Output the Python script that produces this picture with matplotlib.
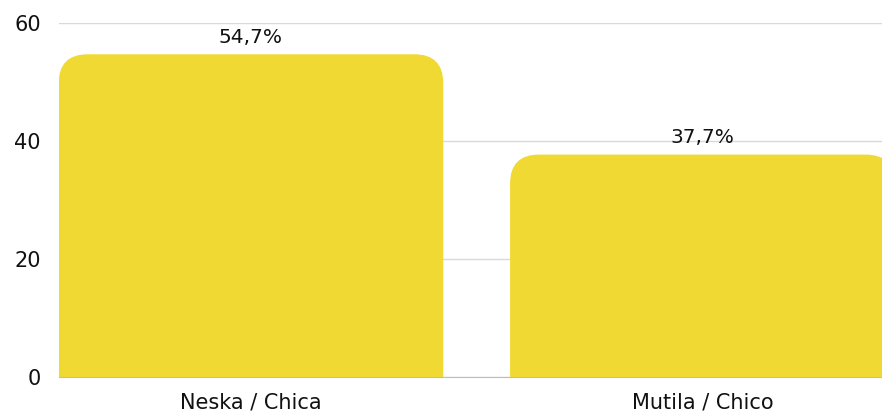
import matplotlib.pyplot as plt
from matplotlib.patches import FancyBboxPatch

categories = ['Neska / Chica', 'Mutila / Chico']
values = [54.7, 37.7]
labels = ['54,7%', '37,7%']

plt.rcParams['font.family'] = ['DejaVu Sans']

fig = plt.figure(figsize=(8.82, 4.18), dpi=100)
ax = fig.add_axes([58.7 / 882, 1 - 377 / 418, 1 - 58.7 / 882, 354 / 418])

bar_w = 0.852
ax.set_xlim(-bar_w / 2, 1.398)
ax.set_ylim(0, 60)

# corner radius in pixels -> data units
px_x = ax.bbox.width / (ax.get_xlim()[1] - ax.get_xlim()[0])
px_y = ax.bbox.height / 60
rx = 29 / px_x
ry = 29 / px_y

for i, v in enumerate(values):
    p = FancyBboxPatch((i - bar_w / 2, -ry), bar_w, v + ry,
                       boxstyle='round,pad=0,rounding_size=%f' % rx,
                       mutation_aspect=ry / rx,
                       fc='#F0D932', ec='none', zorder=2)
    ax.add_patch(p)
    ax.annotate(labels[i], (i, v), xytext=(0, 5.5), textcoords='offset points',
                ha='center', va='bottom', fontsize=14.5, color='#111111')

ax.set_xticks(range(len(categories)))
ax.set_xticklabels(categories)
ax.set_yticks([0, 20, 40, 60])
ax.tick_params(axis='both', length=0, labelsize=15, colors='#111111')
ax.tick_params(axis='y', pad=13)
ax.tick_params(axis='x', pad=11)
ax.grid(axis='y', color='#d9d9d9', lw=1, zorder=0)
for s in ['top', 'right', 'left']:
    ax.spines[s].set_visible(False)
ax.spines['bottom'].set_color('#bdbdbd')
ax.spines['bottom'].set_zorder(3)

fig.savefig('out.png', dpi=100)
